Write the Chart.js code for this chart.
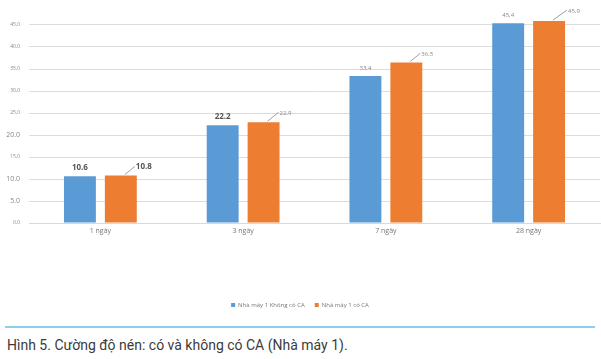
<!DOCTYPE html>
<html>
<head>
<meta charset="utf-8">
<script src="https://cdn.jsdelivr.net/npm/chart.js@4"></script>
<style>
  body { margin: 0; background: #fff; width: 601px; height: 359px; overflow: hidden; }
  .wrap { position: relative; width: 601px; height: 318px; }
  .rule { position: absolute; left: 5px; top: 326px; width: 590px; height: 2px; background: #8ccfea; }
  .caption { position: absolute; left: 7px; top: 337px; font-family: Roboto, sans-serif; font-size: 14px; color: #3b3b3b; white-space: nowrap; }
</style>
</head>
<body>
<div class="wrap"><canvas id="chart" width="601" height="318"></canvas></div>
<div class="rule"></div>
<div class="caption">Hình 5. Cường độ nén: có và không có CA (Nhà máy 1).</div>
<script>
const categories = ['1 ngày', '3 ngày', '7 ngày', '28 ngày'];
const seriesNames = ['Nhà máy 1 Không có CA', 'Nhà máy 1 có CA'];
const withoutCA = [10.6, 22.2, 33.4, 45.4];
const withCA = [10.8, 22.9, 36.5, 45.9];
const withoutCALabels = ['10.6', '22.2', '33,4', '45,4'];
const withCALabels = ['10.8', '22,9', '36,5', '45,9'];
const tickLabels = {0: '0,0', 5: '5.0', 10: '10.0', 15: '15,0', 20: '20.0', 25: '25,0', 30: '30,0', 35: '35,0', 40: '40,0', 45: '45,0'};

const valueLabels = {
    id: 'valueLabels',
    afterDatasetsDraw(chart) {
        const ctx = chart.ctx;
        ctx.save();
        ctx.textAlign = 'center';
        ctx.textBaseline = 'bottom';
        chart.getDatasetMeta(0).data.forEach((bar, i) => {
            const big = i < 2;
            ctx.fillStyle = big ? '#555' : '#888';
            ctx.font = big ? 'bold 8px "Open Sans", sans-serif' : '6px "Open Sans", sans-serif';
            ctx.fillText(withoutCALabels[i], bar.x, bar.y - 5);
        });
        // orange labels sit off to the right with a small leader line
        const offs = [[10, -8], [11, -9], [10, -8], [14, -10]];
        chart.getDatasetMeta(1).data.forEach((bar, i) => {
            const big = i === 0;
            const [dx, dy] = offs[i];
            ctx.strokeStyle = '#777';
            ctx.lineWidth = 0.7;
            ctx.beginPath();
            ctx.moveTo(bar.x + 4, bar.y - 1);
            ctx.lineTo(bar.x + 4 + dx, bar.y - 1 + dy);
            ctx.stroke();
            ctx.fillStyle = big ? '#555' : '#888';
            ctx.font = big ? 'bold 8px "Open Sans", sans-serif' : '6px "Open Sans", sans-serif';
            ctx.textAlign = 'left';
            ctx.fillText(withCALabels[i], bar.x + 5 + dx, bar.y + dy + 3);
        });
        ctx.restore();
    }
};

new Chart(document.getElementById('chart'), {
    type: 'bar',
    data: {
        labels: categories,
        datasets: [{
            label: seriesNames[0],
            data: withoutCA,
            backgroundColor: '#5b9bd5'
        }, {
            label: seriesNames[1],
            data: withCA,
            backgroundColor: '#ed7d31'
        }]
    },
    options: {
        responsive: false,
        animation: false,
        layout: { padding: { left: 0, right: 1, top: 0, bottom: 0 } },
        datasets: { bar: { categoryPercentage: 0.573, barPercentage: 0.78 } },
        plugins: {
            tooltip: { enabled: false },
            legend: {
                position: 'bottom',
                labels: {
                    usePointStyle: true,
                    pointStyle: 'rect',
                    boxWidth: 4,
                    boxHeight: 4,
                    padding: 10,
                    color: '#777',
                    font: { size: 6, family: '"Open Sans", sans-serif' }
                }
            }
        },
        scales: {
            x: {
                grid: { display: false, drawTicks: false },
                border: { color: '#d9d9d9' },
                ticks: { color: '#777', font: { size: 7, family: '"Open Sans", sans-serif' }, padding: 4 },
                afterFit(scale) { scale.height = 69; }
            },
            y: {
                min: 0,
                max: 50,
                border: { display: false },
                grid: { color: '#dcdcdc', drawTicks: false },
                ticks: {
                    stepSize: 5,
                    padding: 9,
                    color: '#888',
                    font: ctx => {
                        const v = ctx.tick ? ctx.tick.value : 0;
                        const big = v === 5 || v === 10 || v === 20;
                        return { size: big ? 7 : 5, family: '"Open Sans", sans-serif' };
                    },
                    callback: v => tickLabels[v]
                },
                // the 50 line is not shown, only room for the tallest bar
                afterBuildTicks(scale) {
                    scale.ticks = scale.ticks.filter(t => t.value <= 45);
                },
                afterFit(scale) {
                    scale.width = 29;
                    scale.paddingTop = 3;
                    scale.paddingBottom = 0;
                }
            }
        }
    },
    plugins: [valueLabels]
});
</script>
</body>
</html>
